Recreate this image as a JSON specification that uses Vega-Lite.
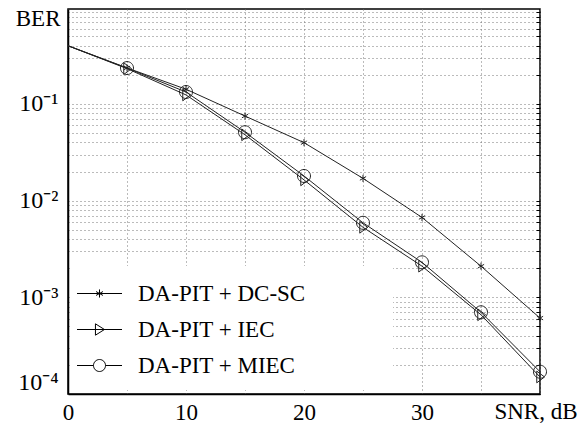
{
  "$schema": "https://vega.github.io/schema/vega-lite/v6.json",
  "width": 472,
  "height": 385,
  "autosize": {"type": "none"},
  "padding": {"left": 68, "top": 9, "right": 43, "bottom": 30},
  "background": "white",
  "data": {
    "values": [
      {"snr": 0, "ber": 0.4, "series": "DA-PIT + DC-SC"},
      {"snr": 5, "ber": 0.236, "series": "DA-PIT + DC-SC"},
      {"snr": 10, "ber": 0.142, "series": "DA-PIT + DC-SC"},
      {"snr": 15, "ber": 0.075, "series": "DA-PIT + DC-SC"},
      {"snr": 20, "ber": 0.0398, "series": "DA-PIT + DC-SC"},
      {"snr": 25, "ber": 0.017, "series": "DA-PIT + DC-SC"},
      {"snr": 30, "ber": 0.0067, "series": "DA-PIT + DC-SC"},
      {"snr": 35, "ber": 0.0021, "series": "DA-PIT + DC-SC"},
      {"snr": 40, "ber": 0.00061, "series": "DA-PIT + DC-SC"},
      {"snr": 0, "ber": 0.4, "series": "DA-PIT + IEC"},
      {"snr": 5, "ber": 0.232, "series": "DA-PIT + IEC"},
      {"snr": 10, "ber": 0.124, "series": "DA-PIT + IEC"},
      {"snr": 15, "ber": 0.048, "series": "DA-PIT + IEC"},
      {"snr": 20, "ber": 0.0164, "series": "DA-PIT + IEC"},
      {"snr": 25, "ber": 0.0053, "series": "DA-PIT + IEC"},
      {"snr": 30, "ber": 0.0021, "series": "DA-PIT + IEC"},
      {"snr": 35, "ber": 0.00066, "series": "DA-PIT + IEC"},
      {"snr": 40, "ber": 0.00015, "series": "DA-PIT + IEC"},
      {"snr": 0, "ber": 0.4, "series": "DA-PIT + MIEC"},
      {"snr": 5, "ber": 0.235, "series": "DA-PIT + MIEC"},
      {"snr": 10, "ber": 0.133, "series": "DA-PIT + MIEC"},
      {"snr": 15, "ber": 0.051, "series": "DA-PIT + MIEC"},
      {"snr": 20, "ber": 0.018, "series": "DA-PIT + MIEC"},
      {"snr": 25, "ber": 0.0059, "series": "DA-PIT + MIEC"},
      {"snr": 30, "ber": 0.0023, "series": "DA-PIT + MIEC"},
      {"snr": 35, "ber": 0.0007, "series": "DA-PIT + MIEC"},
      {"snr": 40, "ber": 0.00017, "series": "DA-PIT + MIEC"}
    ]
  },
  "layer": [
    {
      "mark": {"type": "line", "color": "#222", "strokeWidth": 1},
      "encoding": {
        "x": {
          "field": "snr", "type": "quantitative",
          "scale": {"domain": [0, 40], "nice": false, "zero": false},
          "axis": {
            "values": [0, 5, 10, 15, 20, 25, 30, 35, 40],
            "labelExpr": "datum.value % 10 == 0 && datum.value < 40 ? datum.label : ''",
            "labelFlush": false,
            "grid": true, "gridDash": [1, 3], "gridColor": "#777", "gridWidth": 1,
            "ticks": false, "labelPadding": 7,
            "labelFont": "Liberation Serif", "labelFontSize": 23, "labelColor": "black",
            "domainColor": "black", "domainWidth": 1.5,
            "title": "SNR, dB", "titleFont": "Liberation Serif", "titleFontSize": 23,
            "titleFontWeight": "normal", "titleColor": "black",
            "titleX": 509, "titleY": 17, "titleAlign": "right", "titleBaseline": "middle", "titleAngle": 0
          }
        },
        "y": {
          "field": "ber", "type": "quantitative",
          "scale": {"type": "log", "domain": [0.0001, 0.96], "nice": false},
          "axis": {
            "orient": "left",
            "values": [0.0001, 0.0002, 0.0003, 0.0004, 0.0005, 0.0006, 0.0007, 0.0008, 0.0009, 0.001, 0.002, 0.003, 0.004, 0.005, 0.006, 0.007, 0.008, 0.009, 0.01, 0.02, 0.03, 0.04, 0.05, 0.06, 0.07, 0.08, 0.09, 0.1, 0.2, 0.3, 0.4, 0.5, 0.6, 0.7, 0.8, 0.9],
            "labelExpr": "datum.value == 0.1 ? '10⁻¹' : datum.value == 0.01 ? '10⁻²' : datum.value == 0.001 ? '10⁻³' : datum.value == 0.0001 ? '10⁻⁴' : ''",
            "labelFlush": true,
            "grid": true, "gridDash": [1, 3], "gridColor": "#777", "gridWidth": 1,
            "ticks": false, "labelPadding": 10,
            "labelFont": "Liberation Serif", "labelFontSize": 24, "labelColor": "black",
            "domainColor": "black", "domainWidth": 1.5,
            "title": "BER", "titleFont": "Liberation Serif", "titleFontSize": 23,
            "titleFontWeight": "normal", "titleColor": "black",
            "titleX": -8, "titleY": 9, "titleAlign": "right", "titleBaseline": "middle", "titleAngle": 0
          }
        },
        "detail": {"field": "series", "type": "nominal"}
      }
    },
    {
      "transform": [{"filter": "datum.snr > 0"}],
      "mark": {"type": "point", "filled": false, "color": "#222", "strokeWidth": 1, "size": 169, "opacity": 1},
      "encoding": {
        "x": {"field": "snr", "type": "quantitative"},
        "y": {
          "field": "ber", "type": "quantitative",
          "axis": {
            "orient": "right",
            "values": [0.0001, 0.0002, 0.0003, 0.0004, 0.0005, 0.0006, 0.0007, 0.0008, 0.0009, 0.001, 0.002, 0.003, 0.004, 0.005, 0.006, 0.007, 0.008, 0.009, 0.01, 0.02, 0.03, 0.04, 0.05, 0.06, 0.07, 0.08, 0.09, 0.1, 0.2, 0.3, 0.4, 0.5, 0.6, 0.7, 0.8, 0.9],
            "labels": false, "grid": false, "domain": false, "title": null,
            "ticks": true, "tickSize": -4, "tickColor": "black", "tickWidth": 1
          }
        },
        "shape": {
          "field": "series", "type": "nominal",
          "scale": {
            "domain": ["DA-PIT + DC-SC", "DA-PIT + IEC", "DA-PIT + MIEC"],
            "range": [
              "M0,-0.55V0.55M-0.48,-0.28L0.48,0.28M-0.48,0.28L0.48,-0.28",
              "M-0.5,-0.9L0.7,0L-0.5,0.9Z",
              "M1,0A1,1 0 1,1 -1,0A1,1 0 1,1 1,0Z"
            ]
          },
          "legend": null
        }
      }
    },
    {
      "transform": [{"filter": "datum.snr > 0"}],
      "mark": {"type": "point", "filled": false, "color": "black", "opacity": 0, "size": 900},
      "encoding": {
        "x": {"field": "snr", "type": "quantitative"},
        "y": {"field": "ber", "type": "quantitative", "axis": null},
        "shape": {
          "field": "series", "type": "nominal",
          "scale": {
            "domain": ["DA-PIT + DC-SC", "DA-PIT + IEC", "DA-PIT + MIEC"],
            "range": [
              "M-1.5,0H1.5M0,-0.27V0.27M-0.23,-0.13L0.23,0.13M-0.23,0.13L0.23,-0.13",
              "M-1.5,0H1.5M-0.27,-0.38L0.33,0L-0.27,0.38Z",
              "M-1.5,0H-0.4M0.4,0H1.5M0.4,0A0.4,0.4 0 1,1 -0.4,0A0.4,0.4 0 1,1 0.4,0"
            ]
          },
          "legend": {
            "title": null,
            "orient": "bottom-left",
            "offset": 4,
            "padding": 12,
            "fillColor": "white",
            "strokeColor": null,
            "symbolSize": 900,
            "symbolOpacity": 1,
            "symbolStrokeColor": "black",
            "symbolFillColor": "transparent",
            "symbolStrokeWidth": 1,
            "labelOffset": 23,
            "labelLimit": 400,
            "rowPadding": 8,
            "labelFont": "Liberation Serif",
            "labelFontSize": 23,
            "labelColor": "black",
            "labelExpr": "datum.label + '\u00a0\u00a0\u00a0\u00a0\u00a0\u00a0\u00a0\u00a0\u00a0\u00a0\u2800'"
          }
        }
      }
    }
  ],
  "resolve": {
    "scale": {"shape": "independent"},
    "axis": {"y": "independent"},
    "legend": {"shape": "independent"}
  },
  "config": {
    "view": {"stroke": "black", "strokeWidth": 1.5},
    "font": "Liberation Serif"
  }
}
